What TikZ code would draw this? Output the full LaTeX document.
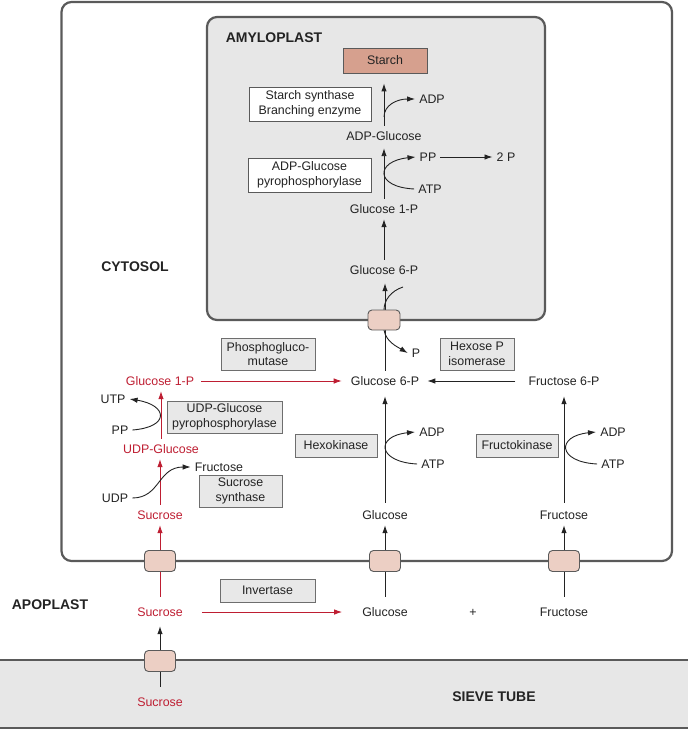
\documentclass[tikz,border=0pt]{standalone}
\usepackage{fontspec}
\setmainfont{Liberation Sans}
\usetikzlibrary{arrows.meta}
\definecolor{sred}{RGB}{190,30,50}
\definecolor{ink}{RGB}{35,35,35}
\definecolor{memb}{RGB}{90,90,90}
\definecolor{amyfill}{RGB}{231,231,231}
\definecolor{enzfill}{RGB}{232,232,232}
\definecolor{enzdraw}{RGB}{110,110,110}
\definecolor{trfill}{RGB}{236,207,196}
\definecolor{trdraw}{RGB}{90,90,90}
\definecolor{starchfill}{RGB}{214,160,142}
\definecolor{sievefill}{RGB}{231,231,231}
\begin{document}
\begin{tikzpicture}[x=1pt,y=-1pt,
  every node/.style={font=\fontsize{12.4}{14.5}\selectfont, text=ink},
  met/.style={inner xsep=3pt, inner ysep=5.5pt, text height=9pt, text depth=0pt},
  redmet/.style={met, text=sred},
  sidemet/.style={inner xsep=4pt, inner ysep=2pt, text height=9pt, text depth=0pt},
  enz/.style={draw=enzdraw, fill=enzfill, line width=0.9pt, align=center, inner sep=0pt},
  whitebox/.style={draw=memb, fill=white, line width=0.9pt, align=center, inner sep=0pt},
  regionlbl/.style={font=\fontsize{14}{16}\selectfont\bfseries, text=ink},
  transp/.style={draw=trdraw, fill=trfill, line width=0.9pt, rounded corners=4pt, minimum width=31pt, minimum height=21pt, inner sep=0pt},
  flow/.style={draw=ink, line width=0.9pt, -{Latex[length=8pt,width=5.5pt]}},
  redflow/.style={draw=sred, line width=0.8pt, -{Latex[length=8pt,width=5.5pt]}},
  bareline/.style={draw=ink, line width=0.9pt},
]
\useasboundingbox (0,0) rectangle (688,730);
% sieve tube
\fill[sievefill] (0,660) rectangle (688,728);
\draw[memb, line width=2.3pt] (0,660) -- (688,660);
\draw[memb, line width=2.3pt] (0,728) -- (688,728);
% cytosol and amyloplast
\draw[memb, line width=2.2pt, rounded corners=10pt] (61.5,2) rectangle (672,561);
\draw[memb, fill=amyfill, line width=2.2pt, rounded corners=10pt] (207,17) rectangle (545,320);

% region labels
\node[regionlbl] (amyl) at (274,38) {AMYLOPLAST};
\node[regionlbl] (cyto) at (135,267) {CYTOSOL};
\node[regionlbl] (apo) at (50,605) {APOPLAST};
\node[regionlbl] (sieve) at (494,697) {SIEVE TUBE};

% amyloplast boxes
\node[fill=starchfill, draw=memb, line width=0.9pt, minimum width=84pt, minimum height=25pt, inner sep=0pt] (starch) at (385,60.5) {Starch};
\node[whitebox, minimum width=122pt, minimum height=34pt] (ssbox) at (310,104) {Starch synthase\\Branching enzyme};
\node[whitebox, minimum width=123pt, minimum height=34pt] (agpbox) at (309.5,175) {ADP-Glucose\\pyrophosphorylase};

% amyloplast metabolites
\node[met] (adpg) at (384,136) {ADP-Glucose};
\node[met] (g1pa) at (384,209) {Glucose 1-P};
\node[met] (g6pa) at (384,270) {Glucose 6-P};
\node[sidemet] (adp1) at (432,99) {ADP};
\node[sidemet] (pp1) at (428,157) {PP};
\node[sidemet] (atp1) at (430,189) {ATP};
\node[sidemet] (twop) at (506,157) {2 P};

% cytosol metabolites
\node[met] (g6pc) at (385,381) {Glucose 6-P};
\node[met] (f6p) at (564,381) {Fructose 6-P};
\node[redmet] (g1pc) at (160,381) {Glucose 1-P};
\node[redmet] (udpg) at (161,449) {UDP-Glucose};
\node[redmet] (succ) at (160,515) {Sucrose};
\node[met] (glcc) at (385,515) {Glucose};
\node[met] (fruc) at (564,515) {Fructose};
\node[sidemet] (utp) at (113,399) {UTP};
\node[sidemet] (pp2) at (120,430) {PP};
\node[sidemet] (udp) at (115,498) {UDP};
\node[sidemet] (fru2) at (219,467) {Fructose};
\node[sidemet] (adp2) at (432,432) {ADP};
\node[sidemet] (atp2) at (433,464) {ATP};
\node[sidemet] (adp3) at (613,432) {ADP};
\node[sidemet] (atp3) at (613,464) {ATP};
\node[sidemet] (p1) at (416,353) {P};

% apoplast and sieve tube metabolites
\node[redmet] (suca) at (160,612) {Sucrose};
\node[met] (glca) at (385,612) {Glucose};
\node[met] (plus) at (473,612) {+};
\node[met] (frua) at (564,612) {Fructose};
\node[redmet] (sucs) at (160,702) {Sucrose};

% enzymes
\node[enz, minimum width=94pt, minimum height=32pt] (pgm) at (268,354) {Phosphogluco-\\mutase};
\node[enz, minimum width=74pt, minimum height=32pt] (hpi) at (477,354) {Hexose P\\isomerase};
\node[enz, minimum width=115pt, minimum height=32pt] (ugp) at (224.5,417) {UDP-Glucose\\pyrophosphorylase};
\node[enz, minimum width=83pt, minimum height=32pt] (sus) at (240.5,491) {Sucrose\\synthase};
\node[enz, minimum width=82pt, minimum height=23pt] (hk) at (336,445.5) {Hexokinase};
\node[enz, minimum width=82pt, minimum height=23pt] (fk) at (517,445.5) {Fructokinase};
\node[enz, minimum width=95pt, minimum height=23pt] (inv) at (267.5,590.5) {Invertase};

% amyloplast pathway
\draw[flow, shorten >=10pt] (adpg.north) -- (adpg.north |- starch.south);
\draw[flow, shorten >=2pt] (g1pa.north) -- (g1pa.north |- adpg.south);
\draw[flow] (g6pa.north) -- (g6pa.north |- g1pa.south);
\coordinate (c1) at (384,117);
\draw[flow] (c1) .. controls +(0,-12) and +(-18,0) .. (adp1.west);
\draw[flow] (atp1.west) .. controls +(-40,-2) and +(-40,4) .. (pp1.west);
\draw[flow] (pp1.east) -- (twop.west);

% cytosol pathway
\draw[flow, shorten >=3pt] (g6pc.north) -- (g6pc.north |- g6pa.south);
\coordinate (pin) at (403,287);
\draw[bareline] (pin) .. controls +(-12,4) and +(0,-10) .. (384,310);
\draw[flow] (384,330) .. controls +(2,12) and +(-10,-6) .. (p1.west);
\draw[redflow, shorten <=4pt, shorten >=6pt] (g1pc.east) -- (g6pc.west);
\draw[flow, shorten <=10pt, shorten >=5pt] (f6p.west) -- (g6pc.east);
\draw[flow, shorten <=2pt, shorten >=5pt] (glcc.north) -- (glcc.north |- g6pc.south);
\draw[flow, shorten <=2pt, shorten >=5pt] (fruc.north) -- (fruc.north |- f6p.south);
\draw[flow] (atp2.west) .. controls +(-40,-2) and +(-40,4) .. (adp2.west);
\draw[flow] (atp3.west) .. controls +(-40,-2) and +(-40,4) .. (adp3.west);
\draw[redflow] (succ.north) -- (succ.north |- udpg.south);
\draw[redflow] (udpg.north) -- (udpg.north |- g1pc.south);
\draw[flow] (pp2.east) .. controls +(38,-3) and +(38,6) .. (utp.east);
\draw[flow] (udp.east) .. controls +(28,0) and +(-33,0) .. (fru2.west);

% membrane transport
\draw[redflow, shorten <=5pt] (suca.north) -- (suca.north |- succ.south);
\draw[flow, shorten <=5pt] (glca.north) -- (glca.north |- glcc.south);
\draw[flow, shorten <=5pt] (frua.north) -- (frua.north |- fruc.south);
\draw[flow, shorten <=5pt, shorten >=4pt] (sucs.north) -- (sucs.north |- suca.south);
\draw[redflow, shorten <=16pt, shorten >=17pt] (suca.east) -- (glca.west);

% transporters
\node[transp] (tsuc) at (160,561) {};
\node[transp] (tglc) at (385,561) {};
\node[transp] (tfru) at (564,561) {};
\node[transp] (tsieve) at (160,661) {};
\node[transp, minimum width=32pt, minimum height=20pt] (tamy) at (384,320) {};
\end{tikzpicture}
\end{document}
